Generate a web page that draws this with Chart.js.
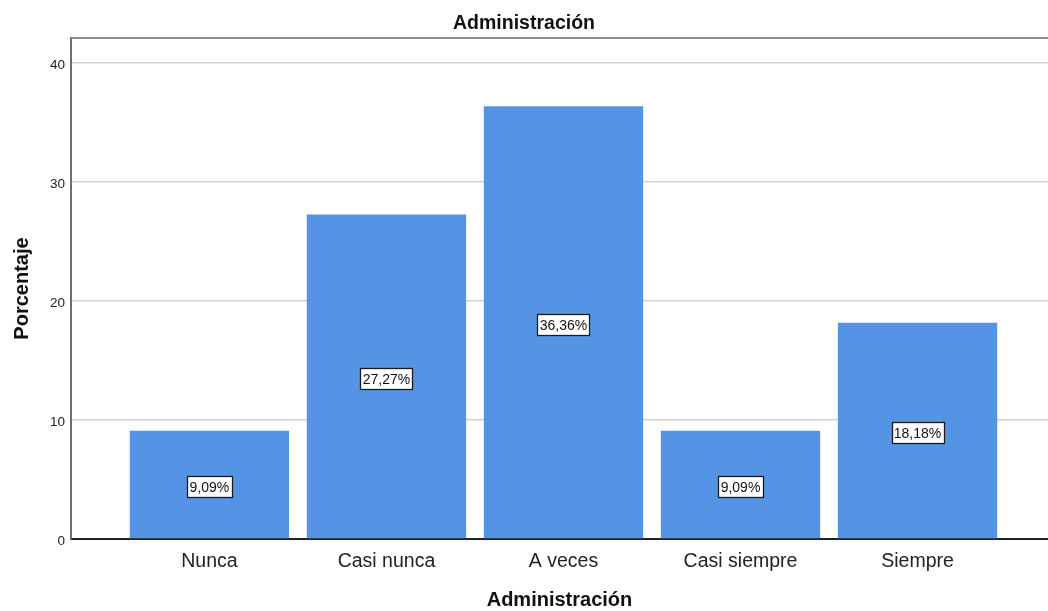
<!DOCTYPE html>
<html lang="es">
<head>
<meta charset="utf-8">
<title>Administración</title>
<script src="https://cdn.jsdelivr.net/npm/chart.js@4.4.1/dist/chart.umd.min.js"></script>
<style>
  html, body { margin: 0; padding: 0; background: #ffffff; }
  #wrap { width: 1048px; height: 611px; position: relative; }
</style>
</head>
<body>
<div id="wrap"><canvas id="chart" width="1048" height="611"></canvas></div>
<script>
// Categorías de respuesta y porcentajes de la variable Administración
const categories = ['Nunca', 'Casi nunca', 'A veces', 'Casi siempre', 'Siempre'];
const percentages = [9.09, 27.27, 36.36, 9.09, 18.18];
const yTicks = [0, 10, 20, 30, 40];

const FONT = "'Liberation Sans', Arial, sans-serif";

// Etiquetas de valor: recuadro blanco con borde negro en el centro de cada barra
const valueBoxes = {
  id: 'valueBoxes',
  afterDatasetsDraw(chart) {
    const ctx = chart.ctx;
    const meta = chart.getDatasetMeta(0);
    const yScale = chart.scales.y;
    ctx.save();
    ctx.font = '14px ' + FONT;
    ctx.textAlign = 'center';
    ctx.textBaseline = 'middle';
    meta.data.forEach((bar, i) => {
      const v = percentages[i];
      const text = v.toFixed(2).replace('.', ',') + '%';
      const cx = bar.x;
      const cy = yScale.getPixelForValue(v / 2) + 2;
      const w = Math.round(ctx.measureText(text).width + 5);
      const h = 21;
      const x0 = Math.round(cx - w / 2);
      const y0 = Math.round(cy - h / 2);
      ctx.fillStyle = '#ffffff';
      ctx.fillRect(x0, y0, w, h);
      ctx.strokeStyle = '#1a1a1a';
      ctx.lineWidth = 1.3;
      ctx.strokeRect(x0 + 0.5, y0 + 0.5, w, h);
      ctx.fillStyle = '#111111';
      ctx.fillText(text, cx, cy + 1);
    });
    ctx.restore();
  }
};

// Marco superior del área de trazado
const topFrame = {
  id: 'topFrame',
  afterDraw(chart) {
    const { ctx, chartArea } = chart;
    ctx.save();
    ctx.strokeStyle = '#8c8c8c';
    ctx.lineWidth = 2;
    ctx.beginPath();
    ctx.moveTo(chartArea.left, chartArea.top);
    ctx.lineTo(chartArea.right, chartArea.top);
    ctx.stroke();
    ctx.restore();
  }
};

new Chart(document.getElementById('chart'), {
  type: 'bar',
  data: {
    datasets: [{
      label: 'Porcentaje',
      data: percentages.map((v, i) => ({ x: i, y: v })),
      backgroundColor: '#5594e4',
      borderWidth: 0,
      barPercentage: 0.9,
      categoryPercentage: 1.0
    }]
  },
  options: {
    responsive: false,
    animation: false,
    devicePixelRatio: 1,
    layout: { padding: { left: 0, right: 0, top: 0, bottom: 0 } },
    plugins: {
      legend: { display: false },
      tooltip: { enabled: false },
      title: {
        display: true,
        text: 'Administración',
        color: '#111111',
        font: { family: FONT, size: 19.5, weight: 'bold' },
        padding: { top: 12, bottom: 2.6 }
      }
    },
    scales: {
      x: {
        type: 'linear',
        min: -0.782,
        max: 4.737,
        offset: false,
        afterBuildTicks(scale) {
          scale.ticks = categories.map((_, i) => ({ value: i }));
        },
        afterFit(scale) { scale.height = 72; },
        ticks: {
          callback: (value) => categories[value] ?? '',
          color: '#222222',
          font: { family: FONT, size: 19.5 },
          padding: 11,
          autoSkip: false,
          maxRotation: 0
        },
        grid: { display: false, drawTicks: false },
        border: { display: true, color: '#222222', width: 2 },
        title: {
          display: true,
          text: 'Administración',
          color: '#111111',
          font: { family: FONT, size: 20, weight: 'bold', lineHeight: 1.05 },
          padding: { top: 0, bottom: 0 }
        }
      },
      y: {
        type: 'linear',
        min: 0,
        max: 42.1,
        afterBuildTicks(scale) {
          scale.ticks = yTicks.map(v => ({ value: v }));
        },
        afterFit(scale) { scale.width = 71; },
        ticks: {
          color: '#222222',
          font: { family: FONT, size: 13.5 },
          padding: 6,
          labelOffset: 2,
          includeBounds: false
        },
        grid: { color: '#d2d2d2', lineWidth: 1.5, drawTicks: false },
        border: { display: true, color: '#6e6e6e', width: 2 },
        title: {
          display: true,
          text: 'Porcentaje',
          color: '#111111',
          font: { family: FONT, size: 20, weight: 'bold' },
          padding: { top: 10, bottom: 0 }
        }
      }
    }
  },
  plugins: [valueBoxes, topFrame]
});
</script>
</body>
</html>
